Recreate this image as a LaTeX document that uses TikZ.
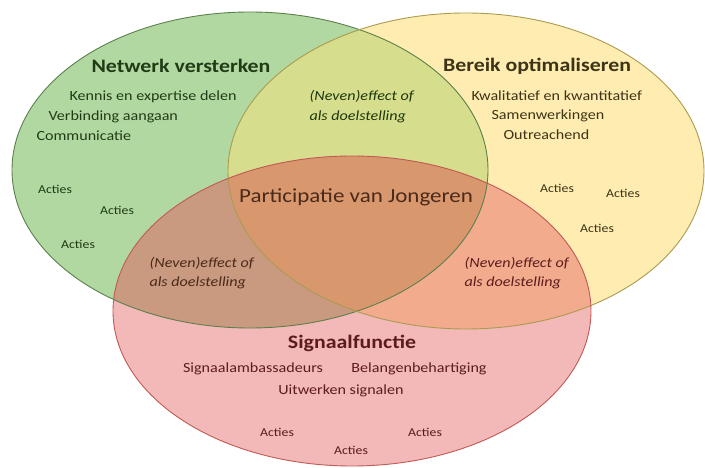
\documentclass[tikz,border=0pt]{standalone}
\usepackage{fontspec}
\setmainfont{Carlito}[FakeStretch=1.15]
\usepackage{tikz}
\usetikzlibrary{positioning}

\definecolor{groenvul}{RGB}{178,216,162}
\definecolor{geelvul}{RGB}{255,236,176}
\definecolor{roodvul}{RGB}{243,184,184}
\definecolor{groengeel}{RGB}{214,221,140}
\definecolor{groenrood}{RGB}{201,153,128}
\definecolor{geelrood}{RGB}{243,171,141}
\definecolor{allesvul}{RGB}{217,151,110}
\definecolor{groenlijn}{RGB}{92,128,76}
\definecolor{geellijn}{RGB}{170,155,80}
\definecolor{roodlijn}{RGB}{192,90,85}
\definecolor{groentekst}{RGB}{32,60,22}
\definecolor{geeltekst}{RGB}{60,52,24}
\definecolor{roodtekst}{RGB}{92,28,30}
\definecolor{middentekst}{RGB}{74,42,26}

\newcommand{\netwerkpad}{(250,170) ellipse [x radius=238pt, y radius=158pt]}
\newcommand{\bereikpad}{(466,171) ellipse [x radius=238pt, y radius=158pt]}
\newcommand{\signaalpad}{(352,311) ellipse [x radius=239pt, y radius=155pt]}

\tikzset{
  titel/.style={font=\fontsize{19}{22}\selectfont\bfseries},
  punt/.style={font=\fontsize{14}{17}\selectfont, anchor=west},
  actie/.style={font=\fontsize{12}{14}\selectfont},
  lens/.style={font=\fontsize{14}{19.5}\selectfont\itshape, align=left, anchor=west},
}

\begin{document}
\begin{tikzpicture}[x=1pt,y=-1pt]
				\useasboundingbox (0,0) rectangle (705,468);
				% ellipsen
				\fill[groenvul] \netwerkpad;
				\fill[geelvul] \bereikpad;
				\fill[roodvul] \signaalpad;
				\begin{scope}
					\clip \netwerkpad;
					\fill[groengeel] \bereikpad;
					\fill[groenrood] \signaalpad;
				\end{scope}
				\begin{scope}
					\clip \bereikpad;
					\fill[geelrood] \signaalpad;
				\end{scope}
				\begin{scope}
					\clip \netwerkpad;
					\clip \bereikpad;
					\fill[allesvul] \signaalpad;
				\end{scope}
				\draw[groenlijn, line width=0.9pt] \netwerkpad;
				\draw[geellijn, line width=0.9pt] \bereikpad;
				\draw[roodlijn, line width=0.9pt] \signaalpad;
				% netwerk versterken
				\node[titel, text=groentekst] (netwerk) at (181,66) {Netwerk versterken};
				\node[punt, text=groentekst] (kennis) at (66,97) {Kennis en expertise delen};
				\node[punt, text=groentekst] (verbinding) at (45,117) {Verbinding aangaan};
				\node[punt, text=groentekst] (communicatie) at (33,136) {Communicatie};
				\node[actie, text=groentekst] (nactie1) at (55,189) {Acties};
				\node[actie, text=groentekst] (nactie2) at (117,210) {Acties};
				\node[actie, text=groentekst] (nactie3) at (78,244) {Acties};
				% bereik optimaliseren
				\node[titel, text=geeltekst] (bereik) at (537,66) {Bereik optimaliseren};
				\node[punt, text=geeltekst] (kwalitatief) at (468,96) {Kwalitatief en kwantitatief};
				\node[punt, text=geeltekst] (samenwerkingen) at (488,116) {Samenwerkingen};
				\node[punt, text=geeltekst] (outreachend) at (500,135) {Outreachend};
				\node[actie, text=geeltekst] (bactie1) at (557,188) {Acties};
				\node[actie, text=geeltekst] (bactie2) at (623,193) {Acties};
				\node[actie, text=geeltekst] (bactie3) at (597,228) {Acties};
				% signaalfunctie
				\node[titel, text=roodtekst] (signaal) at (352,343) {Signaalfunctie};
				\node[font=\fontsize{14}{17}\selectfont, text=roodtekst] (ambassadeurs) at (253,369) {Signaalambassadeurs};
				\node[font=\fontsize{14}{17}\selectfont, text=roodtekst] (belangen) at (419,369) {Belangenbehartiging};
				\node[font=\fontsize{14}{17}\selectfont, text=roodtekst] (uitwerken) at (341,391) {Uitwerken signalen};
				\node[actie, text=roodtekst] (sactie1) at (277,432) {Acties};
				\node[actie, text=roodtekst] (sactie2) at (351,450) {Acties};
				\node[actie, text=roodtekst] (sactie3) at (425,432) {Acties};
				% overlap
				\node[font=\fontsize{20}{24}\selectfont, text=middentekst] (participatie) at (356,197) {Participatie van Jongeren};
				\node[lens, text=geeltekst!80!green!60!black] (lensng) at (306,106.5) {(Neven)effect of\\als doelstelling};
				\node[lens, text=middentekst] (lensns) at (146,273) {(Neven)effect of\\als doelstelling};
				\node[lens, text=roodtekst] (lensbs) at (461,273) {(Neven)effect of\\als doelstelling};
\end{tikzpicture}
\end{document}
